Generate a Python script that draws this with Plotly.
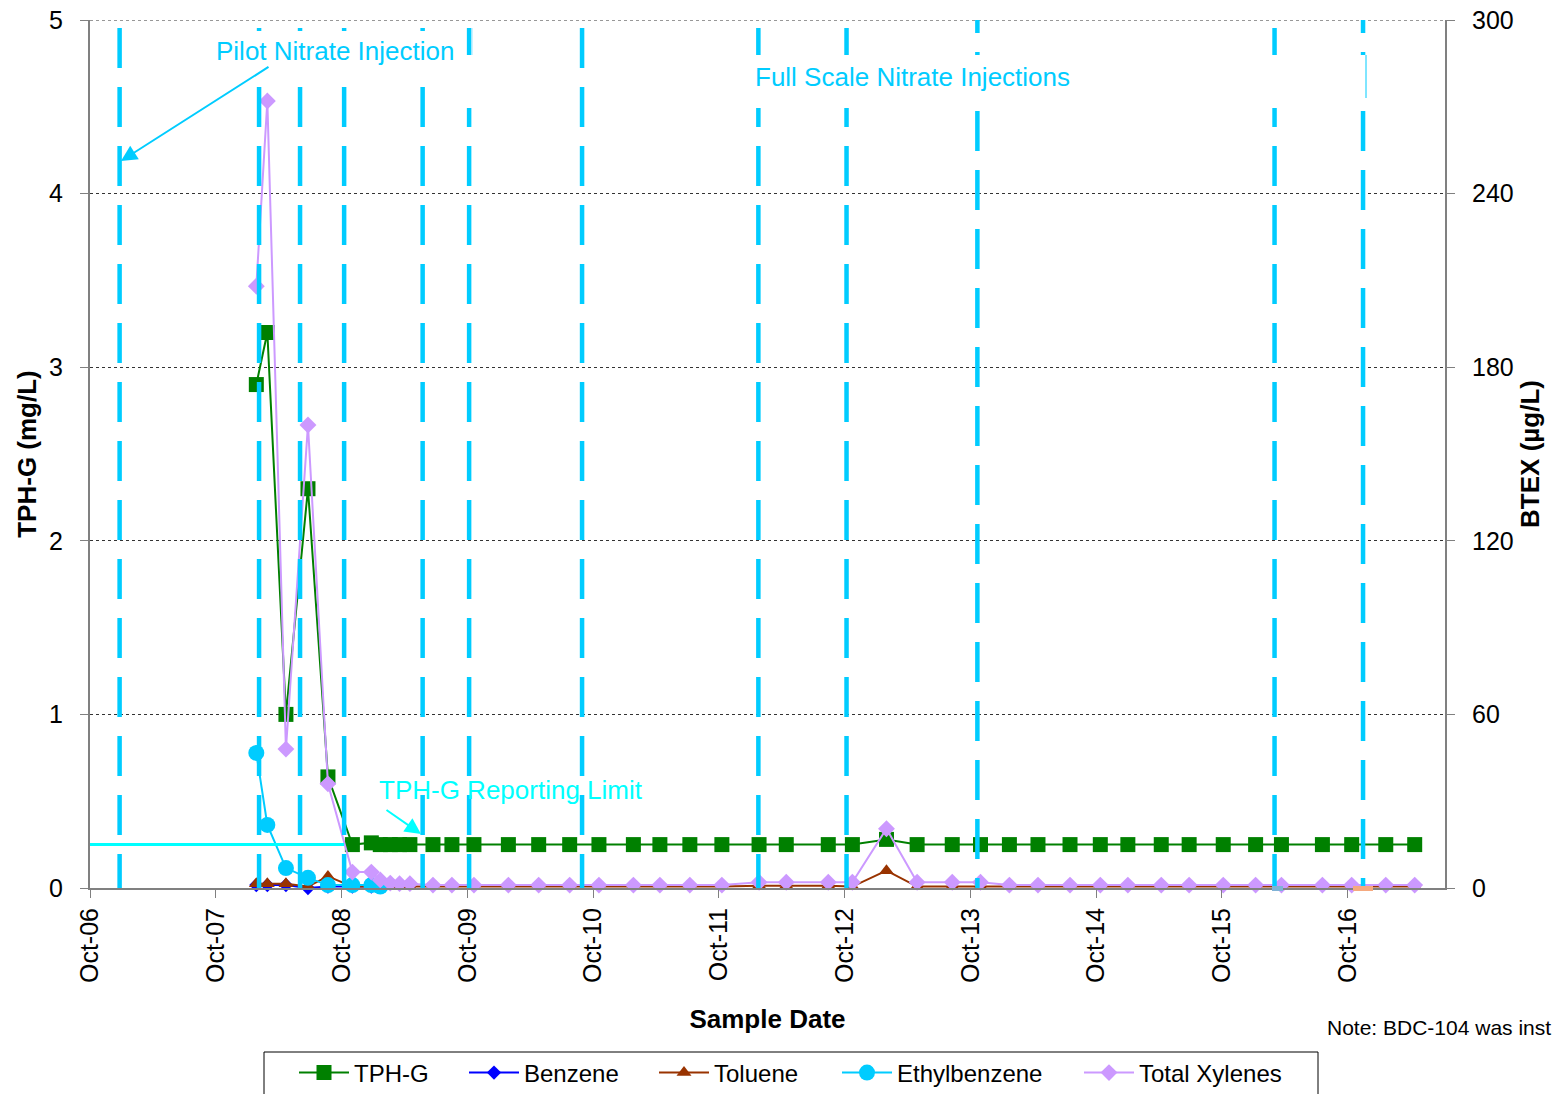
import plotly.graph_objects as go

# ---------------- data ----------------
sample_dates = [
    "2008-01-27", "2008-02-28", "2008-04-22", "2008-06-25", "2008-08-22",
    "2008-11-01", "2008-12-26", "2009-01-21", "2009-02-19", "2009-03-18",
    "2009-04-17", "2009-06-23", "2009-08-17", "2009-10-20", "2010-01-28",
    "2010-04-26", "2010-07-25", "2010-10-18", "2011-01-26", "2011-04-13",
    "2011-07-09", "2011-10-10", "2012-01-26", "2012-04-14", "2012-08-14",
    "2012-10-23", "2013-01-30", "2013-04-29", "2013-08-09", "2013-10-30",
    "2014-01-22", "2014-04-15", "2014-07-17", "2014-10-13", "2015-01-01",
    "2015-04-08", "2015-06-28", "2015-10-05", "2016-01-07", "2016-03-22",
    "2016-07-19", "2016-10-12", "2017-01-19", "2017-04-13",
]

tph_g = [2.9, 3.2, 1.0, 2.3, 0.64, 0.25, 0.26] + [0.25] * 19 + [0.28] + [0.25] * 17

benzene = [1.0, 1.0, 1.0, 0.0, 0.5, 0.5, 0.5] + [None] * 37

toluene = [1.5, 1.5, 1.5, 0.5, 4.0] + [0.5] * 17 + [0.8, 0.8, 0.8, 0.5, 6.0] + [0.5] * 17

ethylbenzene = [46.7, 21.8, 6.9, 3.5, 1.0, 1.0, 1.0, 0.5] + [None] * 36

total_xylenes = ([208, 272, 48, 160, 36, 5.5, 5.5, 2.8, 1.7, 1.5, 1.5] + [1.0] * 11
                 + [2.0] * 4 + [20.5] + [2.0] * 3 + [1.0] * 14)

pilot_injection_dates = ["2006-12-26"]
full_scale_injection_dates = [
    "2008-02-04", "2008-06-02", "2008-10-08", "2009-05-24", "2009-10-06",
    "2010-08-30", "2012-01-24", "2012-10-06", "2013-10-21", "2016-03-02",
    "2016-11-14",
]
reporting_limit = 0.25
reporting_limit_span = ["2006-10-01", "2008-10-08"]

tick_dates = ["%d-10-01" % y for y in range(2006, 2017)]
tick_labels = ["Oct-%02d" % (y % 100) for y in range(2006, 2017)]
tph_ticks = [0, 1, 2, 3, 4, 5]
btex_ticks = [0, 60, 120, 180, 240, 300]

# ---------------- styling ----------------
FONT = "Arial, Liberation Sans, sans-serif"
INJ_COLOR = "#00CCFF"
AQUA = "#00FFFF"
W, H = 1553, 1094
L, T = 90, 20
PW, PH = 1355, 868
R = W - L - PW
B = H - T - PH


def px_x(px):
    return (px - L) / PW


def px_y(py):
    return (T + PH - py) / PH


fig = go.Figure()

series = [
    ("TPH-G", tph_g, "#008000", "square", 15, "y", "legend"),
    ("Benzene", benzene, "#0000FF", "diamond", 11, "y2", "legend2"),
    ("Toluene", toluene, "#993300", "triangle-up", 13, "y2", "legend3"),
    ("Ethylbenzene", ethylbenzene, "#00CCFF", "circle", 16, "y2", "legend4"),
    ("Total Xylenes", total_xylenes, "#CC99FF", "diamond", 13, "y2", "legend5"),
]
for name, vals, color, sym, size, yax, leg in series:
    fig.add_trace(go.Scatter(
        x=sample_dates, y=vals, name=name, mode="lines+markers",
        line=dict(color=color, width=2),
        marker=dict(symbol=sym, size=size, color=color),
        yaxis=yax, legend=leg, cliponaxis=False, connectgaps=False))

shapes = []
# top dotted gridline (at the edge of the plot area)
shapes.append(dict(type="line", xref="paper", yref="y", x0=0, x1=1,
                   y0=tph_ticks[-1], y1=tph_ticks[-1], layer="below",
                   line=dict(color="#333333", width=1, dash="dot")))
# injection event lines (dashed)
for d in pilot_injection_dates + full_scale_injection_dates:
    phase_top = 5.156 if d in ("2013-10-21", "2016-11-14") else 4.954
    shapes.append(dict(type="line", xref="x", yref="y", x0=d, x1=d,
                       y0=phase_top, y1=0, layer="above",
                       line=dict(color=INJ_COLOR, width=4.5, dash="40px,19px")))
# TPH-G reporting limit
shapes.append(dict(type="line", xref="x", yref="y",
                   x0=reporting_limit_span[0], x1=reporting_limit_span[1],
                   y0=reporting_limit, y1=reporting_limit, layer="above",
                   line=dict(color=AQUA, width=3)))
# white boxes behind labels
shapes.append(dict(type="rect", xref="paper", yref="paper",
                   x0=px_x(205), x1=px_x(466), y0=px_y(68), y1=px_y(31),
                   fillcolor="white", line=dict(width=0), layer="above"))
shapes.append(dict(type="rect", xref="paper", yref="paper",
                   x0=px_x(465), x1=px_x(475), y0=px_y(108), y1=px_y(55),
                   fillcolor="white", line=dict(width=0), layer="above"))
shapes.append(dict(type="rect", xref="paper", yref="paper",
                   x0=px_x(740), x1=px_x(1366), y0=px_y(108), y1=px_y(55),
                   fillcolor="white", line=dict(width=0), layer="above"))
shapes.append(dict(type="line", xref="paper", yref="paper",
                   x0=px_x(1366), x1=px_x(1366), y0=px_y(98), y1=px_y(55),
                   line=dict(color=INJ_COLOR, width=1), layer="above"))
shapes.append(dict(type="line", xref="paper", yref="paper",
                   x0=px_x(472), x1=px_x(472), y0=px_y(55), y1=px_y(28),
                   line=dict(color="#99E6FF", width=1), layer="above"))
# small stray marks at the base
shapes.append(dict(type="rect", xref="paper", yref="paper",
                   x0=px_x(1272), x1=px_x(1283), y0=px_y(891), y1=px_y(886),
                   fillcolor="#7FB2D6", line=dict(width=0), layer="above"))
shapes.append(dict(type="rect", xref="paper", yref="paper",
                   x0=px_x(1353), x1=px_x(1373), y0=px_y(891), y1=px_y(886),
                   fillcolor="#F5A97F", line=dict(width=0), layer="above"))
# legend frame
shapes.append(dict(type="rect", xref="paper", yref="paper",
                   x0=px_x(264), x1=px_x(1318), y0=px_y(1120), y1=px_y(1052),
                   fillcolor="rgba(0,0,0,0)", line=dict(color="black", width=1),
                   layer="above"))

annotations = [
    dict(text="Pilot Nitrate Injection", xref="paper", yref="paper",
         x=px_x(335), y=px_y(51), xanchor="center", yanchor="middle",
         showarrow=False, font=dict(family=FONT, size=26, color=INJ_COLOR)),
    dict(text="", xref="paper", yref="paper", x=px_x(121), y=px_y(161),
         ax=149, ay=-95, showarrow=True, arrowhead=2, arrowsize=1.6,
         arrowwidth=2, arrowcolor=INJ_COLOR),
    dict(text="Full Scale Nitrate Injections", xref="paper", yref="paper",
         x=px_x(753), y=px_y(77), xanchor="left", yanchor="middle",
         showarrow=False, font=dict(family=FONT, size=26, color=INJ_COLOR)),
    dict(text="TPH-G Reporting Limit", xref="paper", yref="paper",
         x=px_x(377), y=px_y(790), xanchor="left", yanchor="middle",
         showarrow=False, font=dict(family=FONT, size=26, color=AQUA)),
    dict(text="", xref="paper", yref="paper", x=px_x(421), y=px_y(834),
         ax=-36, ay=-25, showarrow=True, arrowhead=2, arrowsize=1.6,
         arrowwidth=2, arrowcolor=AQUA),
    dict(text="Note: BDC-104 was inst", xref="paper", yref="paper",
         x=px_x(1325), y=px_y(1027), xanchor="left", yanchor="middle",
         showarrow=False, font=dict(family=FONT, size=21, color="black")),
]

legend_starts = [300, 470, 660, 843, 1085]
legend_common = dict(orientation="h", xanchor="left", yanchor="middle",
                     y=px_y(1073), borderwidth=0, bgcolor="rgba(0,0,0,0)",
                     font=dict(family=FONT, size=24, color="black"),
                     itemwidth=50)
legends = {}
for i, xs in enumerate(legend_starts):
    key = "legend" if i == 0 else "legend%d" % (i + 1)
    legends[key] = dict(legend_common, x=px_x(xs - 6))

fig.update_layout(
    width=W, height=H,
    margin=dict(l=L, r=R, t=T, b=B, autoexpand=False),
    paper_bgcolor="white", plot_bgcolor="white",
    font=dict(family=FONT, size=25, color="black"),
    showlegend=True,
    xaxis=dict(
        type="date", range=["2006-10-01", "2017-07-10"],
        tickmode="array", tickvals=tick_dates, ticktext=tick_labels,
        tickangle=-90, ticks="outside", ticklen=8, tickcolor="#808080",
        tickfont=dict(family=FONT, size=25), ticklabeloverflow="allow",
        showline=True, linecolor="#808080", linewidth=2,
        showgrid=False, zeroline=False,
        title=dict(text="<b>Sample Date</b>", font=dict(family=FONT, size=26),
                   standoff=28),
    ),
    yaxis=dict(
        range=[0, 5], tickmode="array", tickvals=tph_ticks,
        ticks="outside", ticklen=8, tickcolor="#808080", ticklabelstandoff=12,
        tickfont=dict(family=FONT, size=25), ticklabeloverflow="allow",
        showline=True, linecolor="#808080", linewidth=2,
        showgrid=True, gridcolor="#333333", gridwidth=1, griddash="dot",
        zeroline=False,
        title=dict(text="<b>TPH-G (mg/L)</b>", font=dict(family=FONT, size=26),
                   standoff=5),
    ),
    yaxis2=dict(
        range=[0, 300], tickmode="array", tickvals=btex_ticks,
        overlaying="y", side="right",
        ticks="outside", ticklen=8, tickcolor="#808080", ticklabelstandoff=12,
        tickfont=dict(family=FONT, size=25), ticklabeloverflow="allow",
        showline=True, linecolor="#808080", linewidth=2,
        showgrid=False, zeroline=False,
        title=dict(text="<b>BTEX (µg/L)</b>", font=dict(family=FONT, size=26),
                   standoff=8),
    ),
    shapes=shapes,
    annotations=annotations,
    **legends,
)

# remove the default 8px page margin so the figure fills the window exactly
fig.write_html("out.html",
               config={"displayModeBar": False},
               post_script="document.body.style.margin='0';"
                           "document.body.style.overflow='hidden';")
